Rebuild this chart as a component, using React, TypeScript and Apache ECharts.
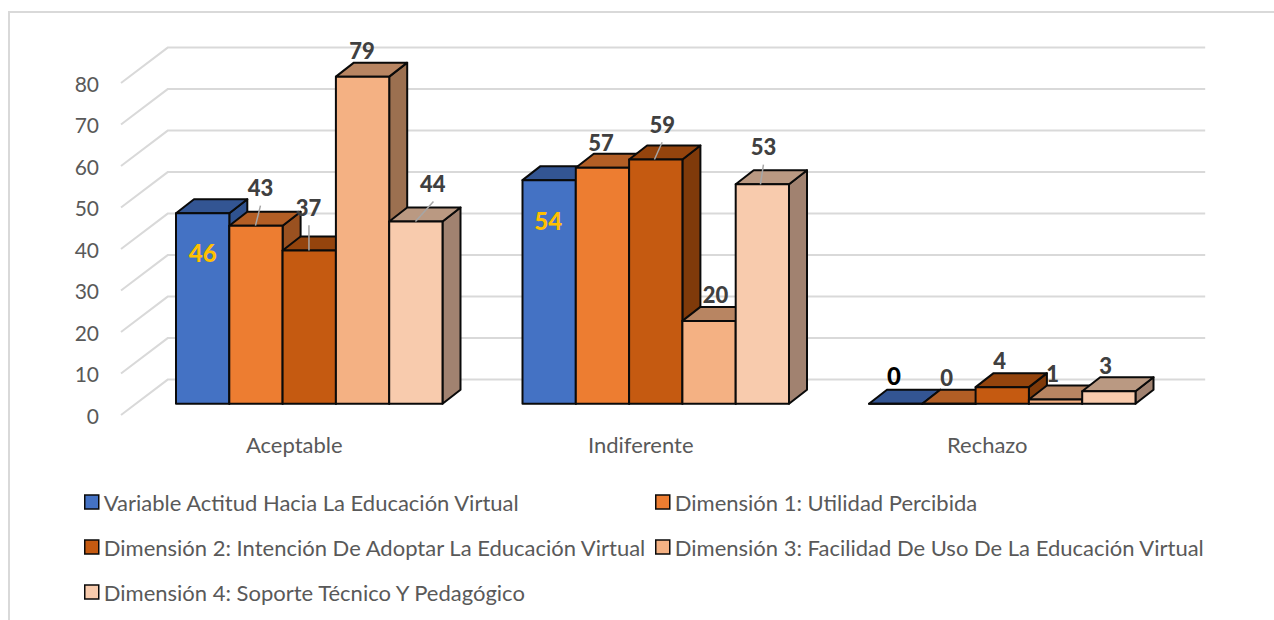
import React, { useEffect, useRef } from "react";
import * as echarts from "echarts";

const categories = ["Aceptable", "Indiferente", "Rechazo"];
const seriesNames = [
  "Variable Actitud Hacia La Educación Virtual",
  "Dimensión 1: Utilidad Percibida",
  "Dimensión 2: Intención De Adoptar La Educación Virtual",
  "Dimensión 3: Facilidad De Uso De La Educación Virtual",
  "Dimensión 4: Soporte Técnico Y Pedagógico",
];
const variableActitud = [46, 54, 0];
const utilidadPercibida = [43, 57, 0];
const intencionAdoptar = [37, 59, 4];
const facilidadUso = [79, 20, 1];
const soporteTecnico = [44, 53, 3];
const seriesValues = [variableActitud, utilidadPercibida, intencionAdoptar, facilidadUso, soporteTecnico];
const wallTicks = [0, 10, 20, 30, 40, 50, 60, 70, 80];

const FONT = "Lato";
const FRONT = ["#4472C4", "#ED7D31", "#C55A11", "#F4B183", "#F8CBAD"];
const TOP = ["#335593", "#B25E25", "#94440D", "#B88562", "#BA9982"];
const SIDE = ["#2F528F", "#9A5120", "#7F3A0A", "#9C7050", "#A18270"];
const LINE = "#0A0A0A";

const GRID = { left: 121, top: 83, width: 1039.5, height: 332 };
const WALL = { dx: 46.7, dy: -35.4 };
const FLOOR = { dx: 15, dy: -11.3 };
const DEPTH = { dx: 18, dy: -14 };
const BAR_WIDTH = 53.3;
const UNIT = 4.14;

// label offset from the top-centre of each bar's front face: [series][category]
const labelOffsets = [
  [[0, 39.3], [-1, 40.4], [-1.7, -27.7]],
  [[4.5, -38], [-1.5, -25.2], [-2.3, -25.7]],
  [[-0.8, -42.6], [6.4, -34.9], [-2.6, -26]],
  [[-0.6, -25.3], [6.4, -25.7], [-2.9, -25.6]],
  [[17, -37.4], [1.1, -37.7], [-3.2, -25.3]],
];
const leaderOffsets: (number[] | null)[][] = [
  [null, null, null],
  [[4.5, -20, -0.5, 0], null, null],
  [[-0.3, -25.3, -0.3, 0], [6.4, -17.2, -1.3, 0], null],
  [null, null, null],
  [[17.6, -20, -0.4, 0], [1.1, -19.7, -1.9, 0], null],
];

function barFrame(api: any, s: number, c: number, v: number) {
  const base = api.coord([c, 0]);
  const left = base[0] - (BAR_WIDTH * 5) / 2 + FLOOR.dx + s * BAR_WIDTH;
  const bottom = base[1] + FLOOR.dy;
  const height = v * UNIT;
  return { left, right: left + BAR_WIDTH, bottom, top: bottom - height };
}

function wallItem(_: any, api: any) {
  const v = api.value(0);
  const a = api.coord([0, v]);
  const size = api.size([1, 0])[0];
  const x0 = a[0] - size / 2;
  const y0 = a[1];
  const x1 = x0 + WALL.dx;
  const y1 = y0 + WALL.dy;
  const x2 = x0 + GRID.width + WALL.dx - 2;
  return {
    type: "polyline",
    shape: { points: [[x0, y0], [x1, y1], [x2, y1]] },
    style: { stroke: "#D9D9D9", lineWidth: 2, fill: "none" },
    silent: true,
  };
}

function barItem(s: number) {
  return (_: any, api: any) => {
    const c = api.value(0);
    const v = api.value(1);
    const { left, right, bottom, top } = barFrame(api, s, c, v);
    const d = DEPTH;
    const st = (fill: string) => ({ fill, stroke: LINE, lineWidth: 2, lineJoin: "round" });
    return {
      type: "group",
      children: [
        {
          type: "polygon",
          shape: { points: [[right, bottom], [right + d.dx, bottom + d.dy], [right + d.dx, top + d.dy], [right, top]] },
          style: st(SIDE[s]),
        },
        {
          type: "polygon",
          shape: { points: [[left, top], [left + d.dx, top + d.dy], [right + d.dx, top + d.dy], [right, top]] },
          style: st(TOP[s]),
        },
        {
          type: "rect",
          shape: { x: left, y: top, width: BAR_WIDTH, height: bottom - top },
          style: st(FRONT[s]),
        },
      ],
    };
  };
}

function labelItem(_: any, api: any) {
  const s = api.value(2);
  const c = api.value(0);
  const v = api.value(1);
  const { left, top } = barFrame(api, s, c, v);
  const cx = left + BAR_WIDTH / 2;
  const off = labelOffsets[s][c];
  const inside = off[1] > 0;
  const strong = s === 0 && c === 2;
  const children: any[] = [];
  const lead = leaderOffsets[s][c];
  if (lead) {
    children.push({
      type: "line",
      shape: { x1: cx + lead[0], y1: top + lead[1], x2: cx + lead[2], y2: top + lead[3] },
      style: { stroke: "#A6A6A6", lineWidth: 1.5 },
    });
  }
  children.push({
    type: "text",
    x: cx + off[0],
    y: top + off[1] - 0.5,
    style: {
      text: String(v),
      fill: inside ? "#FFC000" : strong ? "#000000" : "#404040",
      font: `900 ${inside || strong ? 24 : 22}px ${FONT}`,
      textAlign: "center",
      textVerticalAlign: "middle",
    },
  });
  return { type: "group", children };
}

const legendSpots = [
  { left: 84, top: 491 },
  { left: 655, top: 491 },
  { left: 84, top: 536 },
  { left: 655, top: 536 },
  { left: 84, top: 581 },
];

const labelData: number[][] = [];
seriesValues.forEach((vals, s) => vals.forEach((v, c) => labelData.push([c, v, s])));

export default function App() {
  const ref = useRef<HTMLDivElement>(null);
  useEffect(() => {
    const chart = echarts.init(ref.current!, undefined, { renderer: "svg" });
    chart.setOption({
      animation: false,
      backgroundColor: "#FFFFFF",
      textStyle: { fontFamily: FONT },
      grid: { ...GRID, containLabel: false },
      graphic: [
        {
          type: "polyline",
          silent: true,
          z: -10,
          shape: { points: [[9, 620], [9, 12], [1274, 12]] },
          style: { fill: "none", stroke: "#D9D9D9", lineWidth: 2 },
        },
      ],
      xAxis: {
        type: "category",
        data: categories,
        axisLine: { show: false },
        axisTick: { show: false },
        splitLine: { show: false },
        axisLabel: { color: "#595959", fontSize: 22, fontFamily: FONT, margin: 18 },
      },
      yAxis: {
        type: "value",
        min: 0,
        max: 80,
        interval: 10,
        axisLine: { show: false },
        axisTick: { show: false },
        splitLine: { show: false },
        axisLabel: { color: "#595959", fontSize: 21, fontFamily: FONT, margin: 22 },
      },
      legend: seriesNames.map((name, i) => ({
        data: [name],
        left: legendSpots[i].left,
        top: legendSpots[i].top,
        orient: "horizontal",
        padding: 0,
        icon: "rect",
        itemWidth: 14,
        itemHeight: 14,
        selectedMode: false,
        itemStyle: { borderColor: LINE, borderWidth: 1.5 },
        textStyle: { color: "#595959", fontSize: 22, fontFamily: FONT, padding: [0, 0, 0, 0] },
      })),
      series: [
        {
          type: "custom",
          name: "wall",
          data: wallTicks.map((t) => [t]),
          encode: { y: 0 },
          renderItem: wallItem,
          silent: true,
          z: 1,
          clip: false,
        },
        ...seriesNames.map((name, s) => ({
          type: "custom",
          name,
          data: seriesValues[s].map((v, c) => [c, v]),
          encode: { x: 0, y: 1 },
          renderItem: barItem(s),
          itemStyle: { color: FRONT[s] },
          z: 2,
          clip: false,
        })),
        {
          type: "custom",
          name: "labels",
          data: labelData,
          encode: { x: 0, y: 1 },
          renderItem: labelItem,
          z: 3,
          clip: false,
        },
      ],
    });
    return () => chart.dispose();
  }, []);
  return (
    <div
      ref={ref}
      style={{ position: "absolute", left: 0, top: 0, width: 1274, height: 620 }}
    />
  );
}
